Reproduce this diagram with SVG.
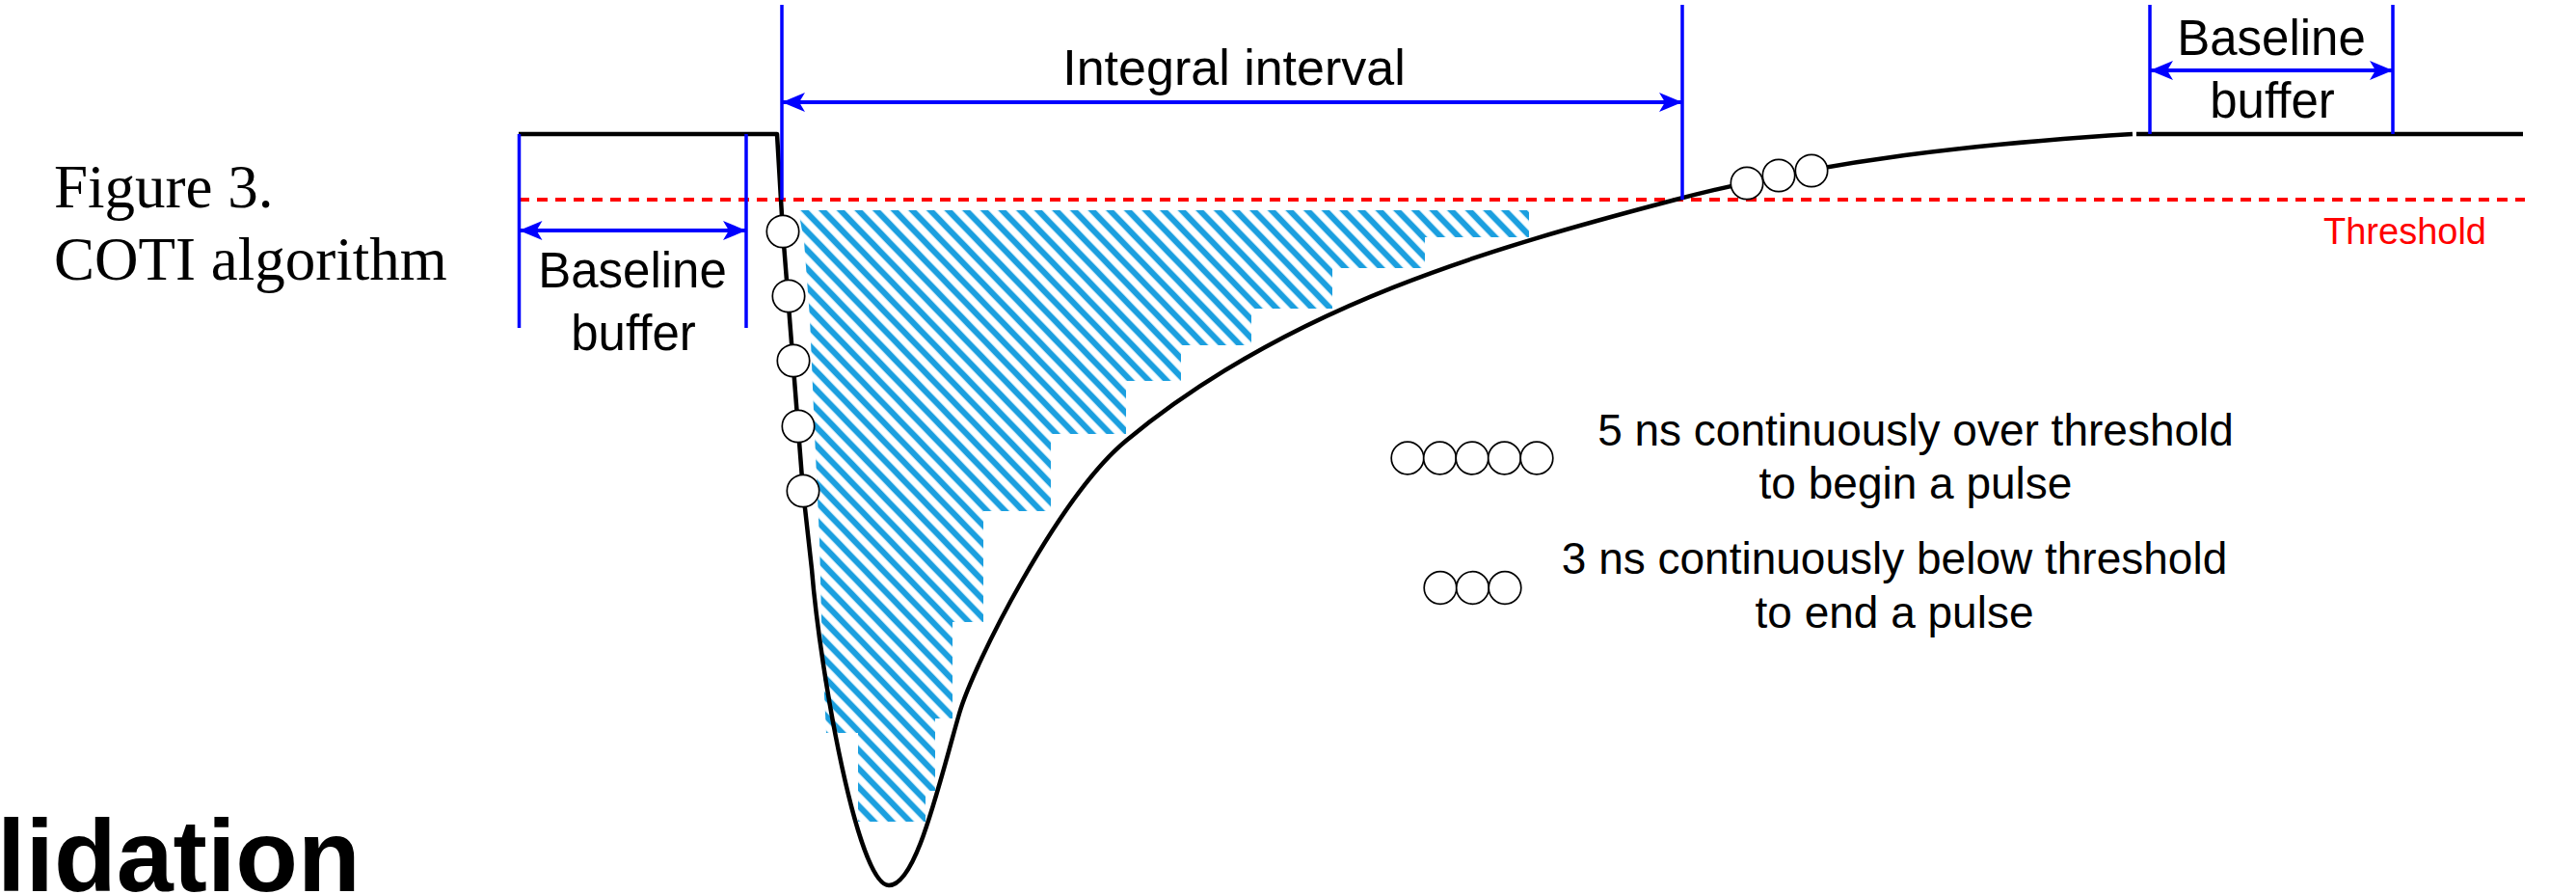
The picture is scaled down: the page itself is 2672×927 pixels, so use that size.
<svg xmlns="http://www.w3.org/2000/svg" width="2672" height="927" viewBox="0 0 2672 927">
<style>
.dim{stroke:#0000ff;stroke-width:3.5;fill:none}
.arr{stroke:#0000ff;stroke-width:4;fill:none;marker-start:url(#ah);marker-end:url(#ah)}
.curve{stroke:#000;stroke-width:4.5;fill:none;stroke-linejoin:round}
.dot{fill:#fff;stroke:#000;stroke-width:1.7}
.lbl{font-family:"Liberation Sans",Arial,sans-serif;fill:#000}
.cap{font-family:"Liberation Serif","Times New Roman",serif;font-size:63px;fill:#000}
</style>
<defs>
<marker id="ah" viewBox="0 0 24 20" refX="24" refY="10" markerWidth="24" markerHeight="20" markerUnits="userSpaceOnUse" orient="auto-start-reverse">
<path d="M0,0 L24,10 L0,20 L6,10 Z" fill="#0000ff"/>
</marker>
<pattern id="hatch" patternUnits="userSpaceOnUse" width="40" height="13.4" patternTransform="rotate(46)">
<line x1="-2" y1="6.7" x2="42" y2="6.7" stroke="#1b9fdf" stroke-width="6.3"/>
</pattern>
</defs>
<rect width="2672" height="927" fill="#fff"/>

<g id="caption">
<text class="cap" x="56" y="215">Figure 3.</text>
<text class="cap" x="56" y="290">COTI algorithm</text>
</g>

<g id="title-fragment">
<text class="lbl" x="-3" y="924" font-size="106" font-weight="bold">lidation</text>
</g>

<g id="integral-area">
<polygon fill="url(#hatch)" points="828,218 1586,218 1586,246 1478,246 1478,278 1382,278 1382,320 1298,320 1298,358 1225,358 1225,395 1168,395 1168,450 1090,450 1090,530 1020,530 1020,645 988,645 988,745 970,745 970,820 960,820 960,852 890,852 890,760 857,760 853,680 850,560 845,450 840,330 834,250"/>
</g>

<g id="threshold">
<line x1="538" y1="207" x2="2619" y2="207" stroke="#ff0000" stroke-width="4" stroke-dasharray="11 8"/>
<text x="2410" y="253" font-family="Liberation Sans, Arial, sans-serif" font-size="38" fill="#ff0000">Threshold</text>
</g>

<g id="pulse">
<path class="curve" d="M538 139 H806 L810 207 L812 240 L833 509 L842 590 C851 700 890 918 922 918 C950 918 972 820 995 740 C1009 690 1098 515 1168 457 C1338 316 1548 257 1738 207 C1898 165 2054 149 2212 139"/>
<path class="curve" d="M2216 139 H2617"/>
</g>

<g id="rise-samples">
<circle class="dot" cx="812" cy="240" r="16.7"/>
<circle class="dot" cx="818" cy="307" r="16.7"/>
<circle class="dot" cx="823" cy="374" r="16.7"/>
<circle class="dot" cx="828" cy="442" r="16.7"/>
<circle class="dot" cx="833" cy="509" r="16.7"/>
</g>

<g id="fall-samples">
<circle class="dot" cx="1812" cy="190" r="16.7"/>
<circle class="dot" cx="1845" cy="182" r="16.7"/>
<circle class="dot" cx="1879" cy="177" r="16.7"/>
</g>

<g id="connectors">
<line class="dim" x1="538.5" y1="139" x2="538.5" y2="340"/>
<line class="dim" x1="774" y1="139" x2="774" y2="340"/>
<line class="arr" x1="538.5" y1="239" x2="774" y2="239"/>
<line class="dim" x1="811" y1="5" x2="811" y2="207"/>
<line class="dim" x1="1745" y1="5" x2="1745" y2="207"/>
<line class="arr" x1="811" y1="106" x2="1745" y2="106"/>
<line class="dim" x1="2230" y1="5" x2="2230" y2="139"/>
<line class="dim" x1="2482" y1="5" x2="2482" y2="139"/>
<line class="arr" x1="2230" y1="73" x2="2482" y2="73"/>
</g>

<g id="label-baseline-left">
<text class="lbl" x="656" y="298" font-size="51" text-anchor="middle">Baseline</text>
<text class="lbl" x="657" y="363" font-size="51" text-anchor="middle">buffer</text>
</g>

<g id="label-integral">
<text class="lbl" x="1280" y="88" font-size="52" text-anchor="middle">Integral interval</text>
</g>

<g id="label-baseline-right">
<text class="lbl" x="2356" y="57" font-size="51" text-anchor="middle">Baseline</text>
<text class="lbl" x="2357" y="122" font-size="51" text-anchor="middle">buffer</text>
</g>

<g id="legend-begin">
<circle class="dot" cx="1460" cy="475" r="16.8"/>
<circle class="dot" cx="1493.5" cy="475" r="16.8"/>
<circle class="dot" cx="1527" cy="475" r="16.8"/>
<circle class="dot" cx="1560.5" cy="475" r="16.8"/>
<circle class="dot" cx="1594" cy="475" r="16.8"/>
<text class="lbl" x="1987" y="462" font-size="46" text-anchor="middle">5 ns continuously over threshold</text>
<text class="lbl" x="1987" y="517" font-size="46" text-anchor="middle">to begin a pulse</text>
</g>

<g id="legend-end">
<circle class="dot" cx="1494" cy="609.5" r="16.8"/>
<circle class="dot" cx="1527.5" cy="609.5" r="16.8"/>
<circle class="dot" cx="1561" cy="609.5" r="16.8"/>
<text class="lbl" x="1965" y="595" font-size="46" text-anchor="middle">3 ns continuously below threshold</text>
<text class="lbl" x="1965" y="651" font-size="46" text-anchor="middle">to end a pulse</text>
</g>
</svg>
